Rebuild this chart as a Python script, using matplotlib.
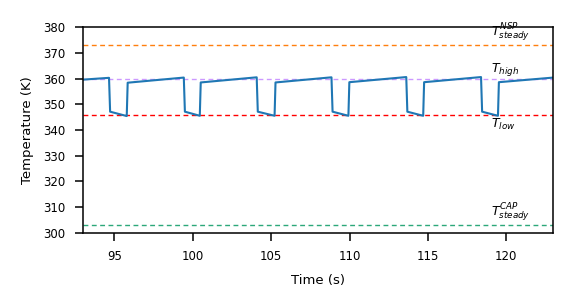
import matplotlib
matplotlib.use("Agg")
import matplotlib.pyplot as plt

# Temperature trace (time s, temperature K)
time_s = [93.0, 94.66, 94.73, 95.79, 95.85,
          99.43, 99.50, 100.45, 100.51,
          104.08, 104.15, 105.22, 105.28,
          108.85, 108.92, 109.93, 109.99,
          113.62, 113.69, 114.70, 114.76,
          118.39, 118.46, 119.47, 119.53,
          123.0]
temp_K = [359.6, 360.3, 347.1, 345.4, 358.4,
          360.4, 347.1, 345.5, 358.5,
          360.5, 347.1, 345.5, 358.5,
          360.5, 347.1, 345.5, 358.6,
          360.6, 347.1, 345.5, 358.6,
          360.6, 347.1, 345.5, 358.6,
          360.4]

T_nsp_steady = 373
T_high = 360
T_low = 346
T_cap_steady = 303

xticks = [95, 100, 105, 110, 115, 120]
yticks = [300, 310, 320, 330, 340, 350, 360, 370, 380]

W, H = 581, 305
fig = plt.figure(figsize=(W / 100, H / 100), dpi=100)
ax = fig.add_axes([83 / W, 1 - 232.5 / H, (553.3 - 83) / W, (232.5 - 27.3) / H])

dash = (0, (3.5, 2.5))
ax.axhline(T_nsp_steady, color="#ff7f0e", ls=dash, lw=1.0)
ax.axhline(T_high, color="#cc99ff", ls=dash, lw=1.0)
ax.axhline(T_low, color="#ff0000", ls=dash, lw=1.0)
ax.axhline(T_cap_steady, color="#2ca87a", ls=dash, lw=1.0)
ax.plot(time_s, temp_K, color="#1f77b4", lw=1.5)

tx = 119.0
ax.text(tx, T_nsp_steady + 0.4, r"$T^{NSP}_{steady}$", fontsize=9, va="bottom")
ax.text(tx, T_high + 0.4, r"$T_{high}$", fontsize=9, va="bottom")
ax.text(tx, T_low - 0.8, r"$T_{low}$", fontsize=9, va="top")
ax.text(tx, T_cap_steady + 0.4, r"$T^{CAP}_{steady}$", fontsize=9, va="bottom")

ax.set_xlim(93, 123)
ax.set_ylim(300, 380)
ax.set_xticks(xticks)
ax.set_yticks(yticks)
ax.tick_params(labelsize=8.5, width=1.1, length=6, pad=6.5)
ax.set_xlabel("Time (s)", fontsize=9.5, labelpad=8)
ax.set_ylabel("Temperature (K)", fontsize=9.5, labelpad=7)
for s in ax.spines.values():
    s.set_linewidth(1.1)

fig.savefig("out.png", dpi=100)
